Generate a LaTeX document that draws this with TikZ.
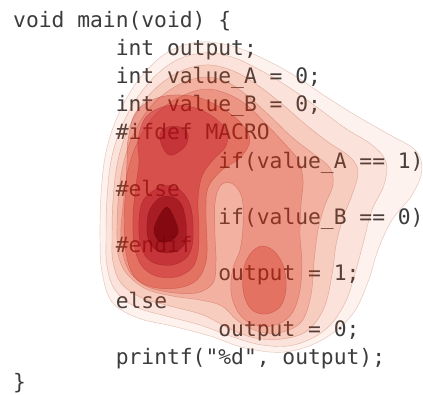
\documentclass[tikz,border=0pt]{standalone}
\usepackage{fontspec}
\newfontfamily\codefont{DejaVu Sans Mono}

\definecolor{codegray}{HTML}{3C3C3C}
% level tints; each is laid with its own opacity over the ones below it
\definecolor{C0}{RGB}{230,93,43}
\definecolor{C1}{RGB}{231,75,27}
\definecolor{C2}{RGB}{226,60,11}
\definecolor{C3}{RGB}{225,48,12}
\definecolor{C4}{RGB}{211,19,7}
\definecolor{C5}{RGB}{203,16,4}
\definecolor{C6}{RGB}{189,3,24}
\definecolor{C7}{RGB}{163,2,21}
\definecolor{C8}{RGB}{136,1,13}
\definecolor{C9}{RGB}{115,0,8}

\tikzset{
  code/.style={anchor=base west, inner sep=0pt, text=codegray,
    font=\codefont\fontsize{21.3}{25}\selectfont},
  lvl/.style 2 args={fill=#1, fill opacity=#2, draw=#1!70!black,
    draw opacity=0.28, line width=0.45pt},
  blob/.style={smooth cycle, tension=0.6}
}

\begin{document}
\begin{tikzpicture}[x=1pt,y=-1pt]
\useasboundingbox (0,0) rectangle (423,394);
\fill[white] (0,0) rectangle (423,394);

% source listing
\node[code] (l0)  at (13,27.5)  {void main(void) \{};
\node[code] (l1)  at (115.6,55.6)  {int output;};
\node[code] (l2)  at (115.6,83.7)  {int value\_A = 0;};
\node[code] (l3)  at (115.6,111.8) {int value\_B = 0;};
\node[code] (l4)  at (115.6,139.9) {\#ifdef MACRO};
\node[code] (l5)  at (218.2,168.0) {if(value\_A == 1)};
\node[code] (l6)  at (115.6,196.1) {\#else};
\node[code] (l7)  at (218.2,224.2) {if(value\_B == 0)};
\node[code] (l8)  at (115.6,252.3) {\#endif};
\node[code] (l9)  at (218.2,280.4) {output = 1;};
\node[code] (l10) at (115.6,308.5) {else};
\node[code] (l11) at (218.2,336.6) {output = 0;};
\node[code] (l12) at (115.6,364.7) {printf("\%d", output);};
\node[code] (l13) at (13,389) {\}};

% filled density contours over the listing
\draw[lvl={C0}{0.08}] plot[blob] coordinates {(100,240) (101,195) (106,152) (119,113) (140,78) (168,52) (200,42) (232,46) (262,58) (292,74) (322,94) (355,115) (390,135) (415,150) (422,170) (412,195) (392,220) (378,250) (368,282) (352,315) (322,340) (285,352) (245,348) (210,336) (172,326) (138,318) (112,302) (102,272)};
\draw[lvl={C1}{0.09}] plot[blob] coordinates {(106,240) (107,198) (112,156) (125,119) (146,86) (173,62) (203,53) (232,57) (260,70) (290,88) (318,108) (345,128) (372,145) (386,162) (384,185) (372,210) (364,240) (356,270) (345,303) (325,330) (294,345) (262,345) (230,336) (200,325) (166,316) (136,307) (115,290) (107,266)};
\draw[lvl={C2}{0.12}] plot[blob] coordinates {(112,240) (113,200) (118,160) (130,125) (150,94) (177,73) (205,65) (231,70) (256,84) (282,104) (305,124) (328,142) (350,157) (358,172) (352,195) (343,218) (336,245) (332,275) (324,308) (307,331) (282,339) (255,338) (230,329) (203,315) (170,306) (142,298) (121,283) (113,262)};
\draw[lvl={C3}{0.17}] plot[blob] coordinates {(117,240) (118,203) (123,165) (135,131) (154,103) (180,84) (206,77) (229,83) (250,98) (272,118) (293,138) (315,155) (330,168) (333,185) (325,205) (318,230) (314,262) (311,295) (302,321) (283,332) (260,332) (238,321) (222,306) (200,300) (172,296) (146,289) (127,274) (119,258)};
\draw[lvl={C4}{0.18}] plot[blob] coordinates {(121,240) (123,206) (128,170) (140,137) (158,112) (182,96) (206,89) (228,94) (248,106) (266,124) (284,143) (298,160) (303,180) (301,205) (300,235) (302,265) (299,295) (290,316) (272,326) (252,324) (238,312) (231,292) (233,268) (240,250) (243,225) (242,198) (233,184) (221,185) (215,203) (215,235) (216,262) (213,283) (196,293) (168,292) (144,285) (128,269)};
\draw[lvl={C5}{0.26}] plot[blob] coordinates {(128,140) (136,112) (160,97) (192,96) (218,106) (240,122) (250,140) (240,158) (222,170) (208,188) (206,215) (207,240) (206,262) (197,280) (178,288) (152,287) (134,276) (126,253) (124,220) (126,185) (127,160)};
\draw[lvl={C5}{0.26}] plot[blob] coordinates {(262,246) (275,252) (284,268) (286,290) (280,307) (266,314) (252,310) (244,295) (243,272) (250,254)};
\draw[lvl={C6}{0.30}] plot[blob] coordinates {(138,140) (146,117) (166,106) (192,107) (212,116) (226,130) (226,146) (213,160) (202,176) (198,200) (199,228) (198,252) (192,268) (176,277) (156,276) (141,265) (134,244) (133,215) (136,185) (139,162)};
\draw[lvl={C7}{0.35}] plot[blob] coordinates {(160,134) (168,127) (180,127) (188,134) (186,145) (177,153) (169,155) (162,146)};
\draw[lvl={C7}{0.35}] plot[blob] coordinates {(163,186) (180,190) (191,208) (193,238) (188,256) (172,265) (152,262) (141,247) (139,220) (144,199)};
\draw[lvl={C8}{0.47}] plot[blob] coordinates {(166,196) (180,202) (186,222) (185,243) (174,252) (158,251) (148,239) (148,215) (155,202)};
\draw[lvl={C9}{0.66}] plot[blob] coordinates {(167,207) (175,220) (178,233) (170,241) (159,241) (154,231) (158,218)};
\end{tikzpicture}
\end{document}
